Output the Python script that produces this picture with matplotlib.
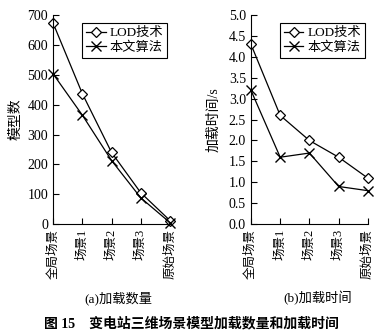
import numpy as np
import matplotlib.pyplot as plt

plt.rcParams['font.family'] = ['Liberation Serif', 'Noto Sans CJK SC']
plt.rcParams['axes.unicode_minus'] = False

scenes = ['全局场景', '场景1', '场景2', '场景3', '原始场景']
count_lod = [673, 437, 240, 105, 12]
count_ours = [503, 365, 213, 88, 5]
time_lod = [4.3, 2.6, 2.0, 1.6, 1.1]
time_ours = [3.2, 1.6, 1.7, 0.9, 0.8]
series_names = ['LOD技术', '本文算法']

fig = plt.figure(figsize=(3.82, 3.35), dpi=100)
ax1 = fig.add_axes([0.139, 0.331, 0.306, 0.624])
ax2 = fig.add_axes([0.657, 0.331, 0.306, 0.624])

def draw(ax, a, b, ylim, yticks, fmt, ylabel):
    x = np.arange(len(scenes))
    ax.plot(x, a, color='black', lw=0.9, marker='D', ms=5.5, mfc='white',
            mec='black', mew=0.9, label=series_names[0])
    ax.plot(x, b, color='black', lw=0.9, marker='x', ms=7, mew=1.0,
            label=series_names[1])
    ax.set_xlim(0, len(scenes) - 1)
    ax.set_ylim(*ylim)
    ax.set_yticks(yticks)
    ax.set_yticklabels([fmt.format(v) for v in yticks], fontsize=10)
    ax.set_xticks(x)
    ax.set_xticklabels(scenes, rotation=90, fontsize=9)
    ax.spines['top'].set_visible(False)
    ax.spines['right'].set_visible(False)
    ax.tick_params(direction='in', length=4, width=0.8)
    ax.set_ylabel(ylabel, fontsize=10)
    for s in ax.spines.values():
        s.set_linewidth(0.8)
    for v in ax.get_lines():
        v.set_clip_on(False)
    leg = ax.legend(loc='upper right', bbox_to_anchor=(0.975, 0.962),
                    fontsize=9.5, fancybox=False, edgecolor='black',
                    framealpha=1, handlelength=1.5, handletextpad=0.3,
                    borderpad=0.3, labelspacing=0.15, borderaxespad=0)
    leg.get_frame().set_linewidth(0.8)

draw(ax1, count_lod, count_ours, (0, 700), list(range(0, 701, 100)), '{:d}', '模型数')
draw(ax2, time_lod, time_ours, (0, 5.0), list(np.arange(0, 5.01, 0.5)), '{:.1f}', '加载时间/s')
ax1.yaxis.set_label_coords(-0.265, 0.5)
ax2.yaxis.set_label_coords(-0.265, 0.5)

fig.text(0.309, 0.11, '(a)加载数量', ha='center', va='center', fontsize=9.5)
fig.text(0.832, 0.11, '(b)加载时间', ha='center', va='center', fontsize=9.5)
fig.text(0.50, 0.033, '图 15    变电站三维场景模型加载数量和加载时间', ha='center',
         va='center', fontsize=10, fontweight='bold')

fig.savefig('out.png', dpi=100)
